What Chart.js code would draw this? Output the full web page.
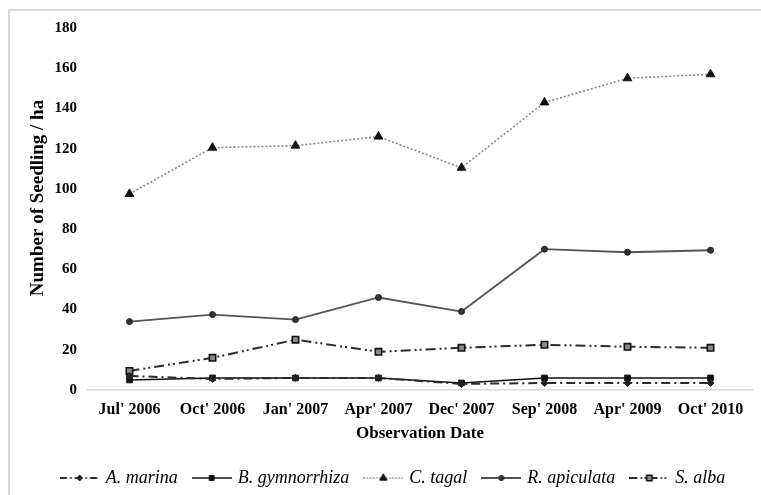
<!DOCTYPE html>
<html>
<head>
<meta charset="utf-8">
<script src="https://cdn.jsdelivr.net/npm/chart.js@4.4.1/dist/chart.umd.min.js"></script>
<style>
  html, body { margin: 0; padding: 0; background: #fff; }
  #wrap { position: relative; width: 761px; height: 495px; overflow: hidden; }
  #frame { position: absolute; left: 8px; top: 9px; width: 800px; height: 600px;
           border-left: 2px solid #d9d9d9; border-top: 2px solid #d9d9d9; box-sizing: border-box; }
  canvas { position: absolute; left: 0; top: 0; }
</style>
</head>
<body>
<div id="wrap">
  <div id="frame"></div>
  <canvas id="c" width="761" height="495"></canvas>
</div>
<script>
const categories = ["Jul' 2006", "Oct' 2006", "Jan' 2007", "Apr' 2007", "Dec' 2007", "Sep' 2008", "Apr' 2009", "Oct' 2010"];
const seriesNames = ["A. marina", "B. gymnorrhiza", "C. tagal", "R. apiculata", "S. alba"];
const aMarina      = [7, 5.5, 6, 6, 3, 3.5, 3.5, 3.5];
const bGymnorrhiza = [5, 6, 6, 6, 3.5, 6, 6, 6];
const cTagal       = [97.5, 120.5, 121.5, 126, 110.5, 143, 155, 157];
const rApiculata   = [34, 37.5, 35, 46, 39, 70, 68.5, 69.5];
const sAlba        = [9.5, 16, 25, 19, 21, 22.5, 21.5, 21];
const yTicks = { min: 0, max: 180, step: 20 };
const yTitle = "Number of Seedling / ha";
const xTitle = "Observation Date";

const SERIF = "'Liberation Serif', 'Times New Roman', serif";

const styles = [
  { color: '#2b2b2b', width: 2,   dash: [9, 4, 2, 4],        pStyle: 'rectRot',  r: 3.5, pFill: '#222', pBorder: '#222', pbw: 1 },
  { color: '#111',    width: 1.6, dash: [],                  pStyle: 'rect',     r: 4,   pFill: '#111', pBorder: '#111', pbw: 1 },
  { color: '#8a8a8a', width: 1.6, dash: [2, 2],              pStyle: 'triangle', r: 5,   pFill: '#111', pBorder: '#111', pbw: 1 },
  { color: '#555',    width: 1.8, dash: [],                  pStyle: 'circle',   r: 3,   pFill: '#333', pBorder: '#222', pbw: 1 },
  { color: '#2b2b2b', width: 2,   dash: [10, 4, 2, 3, 2, 4], pStyle: 'rect',     r: 4.5, pFill: '#8c8c8c', pBorder: '#111', pbw: 1.6 }
];
const seriesData = [aMarina, bGymnorrhiza, cTagal, rApiculata, sAlba];

function legendImage(s) {
  const w = 40, h = 14;
  const cv = document.createElement('canvas');
  cv.width = w; cv.height = h;
  const ctx = cv.getContext('2d');
  ctx.strokeStyle = s.color; ctx.lineWidth = s.width;
  ctx.setLineDash(s.dash.length ? s.dash.map(v => v * 0.8) : []);
  ctx.beginPath(); ctx.moveTo(0, h / 2); ctx.lineTo(w, h / 2); ctx.stroke();
  ctx.setLineDash([]);
  ctx.fillStyle = s.pFill; ctx.strokeStyle = s.pBorder; ctx.lineWidth = s.pbw;
  Chart.helpers.drawPoint(ctx, { pointStyle: s.pStyle, radius: s.r * 0.85, borderWidth: s.pbw }, w / 2, h / 2);
  return cv;
}

const datasets = seriesNames.map((name, i) => {
  const s = styles[i];
  return {
    label: name,
    data: seriesData[i],
    borderColor: s.color,
    borderWidth: s.width,
    borderDash: s.dash,
    pointStyle: s.pStyle,
    pointRadius: s.r,
    pointBackgroundColor: s.pFill,
    pointBorderColor: s.pBorder,
    pointBorderWidth: s.pbw,
    tension: 0,
    fill: false
  };
});

const yTitlePlugin = {
  id: 'yTitle',
  afterDraw(chart) {
    const ctx = chart.ctx;
    ctx.save();
    ctx.translate(38, 198);
    ctx.rotate(-Math.PI / 2);
    ctx.font = "bold 19px " + SERIF;
    ctx.fillStyle = '#000';
    ctx.textAlign = 'center';
    ctx.textBaseline = 'middle';
    ctx.fillText(yTitle, 0, 0);
    ctx.restore();
  }
};

new Chart(document.getElementById('c'), {
  type: 'line',
  data: { labels: categories, datasets },
  plugins: [yTitlePlugin],
  options: {
    responsive: false,
    animation: false,
    devicePixelRatio: 1,
    layout: { padding: { left: 36, right: 9, top: 28, bottom: -2 } },
    plugins: {
      tooltip: { enabled: false },
      legend: {
        position: 'bottom',
        labels: {
          color: '#000',
          font: { family: SERIF, size: 18, style: 'italic' },
          usePointStyle: true,
          pointStyleWidth: 34,
          padding: 17,
          generateLabels(chart) {
            return chart.data.datasets.map((d, i) => ({
              text: d.label,
              pointStyle: legendImage(styles[i]),
              fillStyle: 'transparent',
              strokeStyle: 'transparent',
              lineWidth: 0,
              hidden: false,
              datasetIndex: i,
              fontColor: '#000'
            }));
          }
        }
      }
    },
    scales: {
      x: {
        offset: true,
        afterFit(scale) { scale.height = 62; },
        grid: { display: false, drawTicks: false },
        border: { display: true, color: '#d9d9d9', width: 1.5 },
        ticks: { color: '#000', font: { family: SERIF, size: 16, weight: 'bold' }, padding: 10, maxRotation: 0, autoSkip: false },
        title: { display: true, text: xTitle, color: '#000', font: { family: SERIF, size: 17, weight: 'bold', lineHeight: 1.0 }, padding: { top: 0, bottom: 9.5 } }
      },
      y: {
        min: yTicks.min, max: yTicks.max,
        afterFit(scale) { scale.width = 52; },
        grid: { display: false, drawTicks: false },
        border: { display: false },
        ticks: { stepSize: yTicks.step, color: '#000', font: { family: SERIF, size: 15, weight: 'bold' }, padding: 11 }
      }
    }
  }
});
</script>
</body>
</html>
